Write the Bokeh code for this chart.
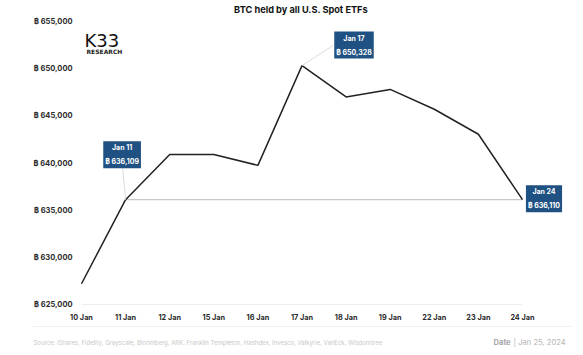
from bokeh.plotting import figure
from bokeh.models import Label, FixedTicker, Range1d
from bokeh.embed import file_html
from bokeh.resources import INLINE

# ---- data ----
categories = ["10 Jan", "11 Jan", "12 Jan", "15 Jan", "16 Jan", "17 Jan",
              "18 Jan", "19 Jan", "22 Jan", "23 Jan", "24 Jan"]
btc_held = [627200, 636109, 640900, 640900, 639750, 650328,
            647000, 647800, 645700, 643050, 636110]
y_ticks = [625000, 630000, 635000, 640000, 645000, 650000, 655000]
y_tick_labels = ["฿ {:,}".format(v) for v in y_ticks]
callout_idx = [1, 5, 10]
callout_dates = ["Jan 11", "Jan 17", "Jan 24"]
title_text = "BTC held by all U.S. Spot ETFs"
source_text = ("Source: iShares, Fidelity, Grayscale, Bloomberg, ARK, Franklin Templeton, "
               "Hashdex, Invesco, Valkyrie, VanEck, Wisdomtree")
date_label = "Date"
date_text = "| Jan 25, 2024"

# ---- layout (pixel geometry of the canvas) ----
W, H = 583, 355
PX_X = 44.1            # pixels per category step
PX_Y = 283 / 30000.0   # pixels per BTC
X0_PX = 81             # pixel of first category
YTOP_VAL, YTOP_PX = 655000, 21


def sx(px):
    return (px - X0_PX) / PX_X


def sy(py):
    return YTOP_VAL - (py - YTOP_PX) / PX_Y


FONT = "Inter"

p = figure(width=W, height=H, output_backend="svg", toolbar_location=None,
           x_range=Range1d(sx(0), sx(W)), y_range=Range1d(sy(H), sy(0)),
           min_border=0)
p.outline_line_color = None
p.background_fill_color = "white"
p.border_fill_color = "white"
p.xgrid.visible = False
p.ygrid.visible = False

# axes (fixed inside the full-canvas frame)
p.yaxis.fixed_location = sx(76)
p.xaxis.fixed_location = sy(306)
p.yaxis.ticker = FixedTicker(ticks=y_ticks)
p.yaxis.major_label_overrides = {t: l for t, l in zip(y_ticks, y_tick_labels)}
p.xaxis.ticker = FixedTicker(ticks=list(range(len(categories))))
p.xaxis.major_label_overrides = {i: c for i, c in enumerate(categories)}
for ax in (p.xaxis, p.yaxis):
    ax.axis_line_color = None
    ax.major_tick_line_color = None
    ax.minor_tick_line_color = None
    ax.major_tick_out = 0
    ax.major_tick_in = 0
    ax.minor_tick_out = 0
    ax.major_label_text_font = FONT
    ax.major_label_text_font_style = "bold"
    ax.major_label_text_color = "#2b2b2b"
p.yaxis.major_label_text_font_size = "7.5px"
p.xaxis.major_label_text_font_size = "7.3px"
p.yaxis.major_label_standoff = 4
p.xaxis.major_label_standoff = 6

xs = list(range(len(categories)))

# baseline at bottom of plot
p.segment(x0=[xs[0]], y0=[y_ticks[0]], x1=[xs[-1]], y1=[y_ticks[0]],
          line_color="#eeeeee", line_width=1)
# footer separator
p.segment(x0=[sx(32)], y0=[sy(326)], x1=[sx(572)], y1=[sy(326)],
          line_color="#f0f0f0", line_width=1)

# reference line at Jan 11 level
p.segment(x0=[xs[1]], y0=[btc_held[1]], x1=[xs[-1]], y1=[btc_held[1]],
          line_color="#c8c8c8", line_width=1.3)

# main line
p.line(xs, btc_held, line_color="#222222", line_width=1.5)

# callouts
box_offsets = [(-3.5, 45), (52, 20.5), (21.5, 1)]
leader_ends = [(-3, 33), (31, 20), (0, 0)]
for idx, d, (ox, oy), (lx, ly) in zip(callout_idx, callout_dates, box_offsets, leader_ends):
    if lx or ly:
        p.segment(x0=[xs[idx]], y0=[btc_held[idx]],
                  x1=[xs[idx] + lx / PX_X], y1=[btc_held[idx] + ly / PX_Y],
                  line_color="#dcdcdc", line_width=1)
    p.add_layout(Label(x=xs[idx], y=btc_held[idx], x_offset=ox, y_offset=oy,
                       text="{}\n฿ {:,}".format(d, btc_held[idx]),
                       text_align="center", text_baseline="middle",
                       text_font=FONT, text_font_style="bold", text_font_size="7px",
                       text_color="white", text_line_height=1.55,
                       background_fill_color="#1f5182", padding=2))

# title
p.add_layout(Label(x=sx(300.5), y=sy(8.5), text=title_text, text_align="center",
                   text_baseline="middle", text_font=FONT, text_font_style="bold",
                   text_font_size="9.2px", text_color="#111111"))

# logo
p.add_layout(Label(x=sx(84), y=sy(39.5), text="K33", text_align="left",
                   text_baseline="middle", text_font="DejaVu Sans",
                   text_font_style="normal", text_font_size="18px",
                   text_color="#111111"))
p.add_layout(Label(x=sx(86), y=sy(50.5), text="RESEARCH", text_align="left",
                   text_baseline="middle", text_font="DejaVu Sans",
                   text_font_style="bold", text_font_size="6px",
                   text_color="#222222"))

# footer
p.add_layout(Label(x=sx(33), y=sy(341.5), text=source_text, text_align="left",
                   text_baseline="middle", text_font=FONT, text_font_size="6px",
                   text_color="#c8c8c8"))
p.add_layout(Label(x=sx(493), y=sy(341.5), text=date_label, text_align="left",
                   text_baseline="middle", text_font=FONT, text_font_style="bold",
                   text_font_size="7.6px", text_color="#a8a8a8"))
p.add_layout(Label(x=sx(513), y=sy(341.5), text=date_text, text_align="left",
                   text_baseline="middle", text_font=FONT, text_font_size="7.6px",
                   text_color="#b4b4b4"))

open("out.html", "w").write(file_html(p, INLINE))
